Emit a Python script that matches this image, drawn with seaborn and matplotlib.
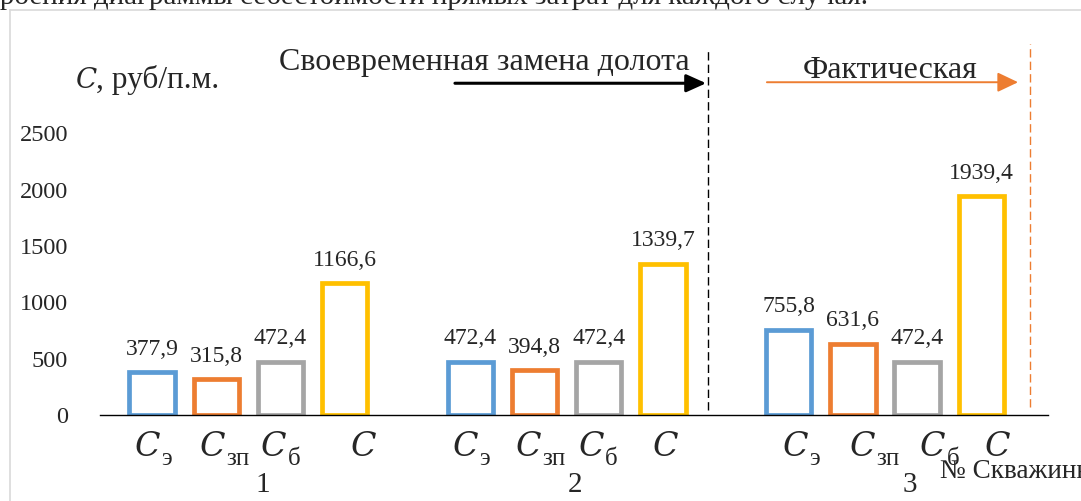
import matplotlib
matplotlib.use("Agg")
import matplotlib.pyplot as plt
from matplotlib.lines import Line2D
import seaborn as sns
import pandas as pd

# ---- data ----
wells = ["1", "2", "3"]
components = ["Cэ", "Cзп", "Cб", "C"]
comp_subscripts = ["э", "зп", "б", ""]
c_e = [377.9, 472.4, 755.8]
c_zp = [315.8, 394.8, 631.6]
c_b = [472.4, 472.4, 472.4]
c_total = [1166.6, 1339.7, 1939.4]
y_ticks = [0, 500, 1000, 1500, 2000, 2500]
colors = ["#5B9BD5", "#ED7D31", "#A5A5A5", "#FFC000"]

rows = []
for comp, vals in zip(components, [c_e, c_zp, c_b, c_total]):
    for w, v in zip(wells, vals):
        rows.append({"well": w, "comp": comp, "value": v})
df = pd.DataFrame(rows)

sns.set_theme(style="white")
plt.rcParams["font.family"] = ["Liberation Serif", "DejaVu Serif"]

W, H = 1081, 501
fig = plt.figure(figsize=(W / 100, H / 100), dpi=100)
ax = fig.add_axes([100 / W, 1 - 415 / H, 948 / W, 372 / H])

sns.barplot(data=df, x="well", y="value", hue="comp", order=wells,
            hue_order=components, palette=colors, fill=False,
            width=0.806, gap=0.294, linewidth=3.4, legend=False,
            errorbar=None, ax=ax)

ax.set_xlim(-0.466, 2.512)
ax.set_ylim(0, 3300)
ax.set_yticks(y_ticks)
ax.set_yticklabels([str(t) for t in y_ticks], fontsize=17.5)
ax.tick_params(axis="y", length=0, pad=23)
ax.set_xticks([])
ax.set_xlabel("")
ax.set_ylabel("")
for s in ["top", "right", "left"]:
    ax.spines[s].set_visible(False)
ax.spines["bottom"].set_color("black")
ax.spines["bottom"].set_linewidth(1.0)
ax.spines["bottom"].set_zorder(5)

# value labels above bars
for cont in ax.containers:
    ax.bar_label(cont, labels=[f"{v:.1f}".replace(".", ",") for v in cont.datavalues],
                 padding=9, fontsize=17)

# category captions under the bars (C with a subscript)
nudge_px = [[8, 9, 6, 18.5],
            [7.5, 7, 5.5, 2.5],
            [19.5, 22.5, 28.5, 16]]
for hi, cont in enumerate(ax.containers):
    for gi, bar in enumerate(cont.patches):
        xc = bar.get_x() + bar.get_width() / 2
        dx = nudge_px[gi][hi]
        sub = comp_subscripts[hi]
        if sub:
            ax.annotate("C", xy=(xc, 0), xytext=(dx, -41), textcoords="offset pixels",
                        ha="right", va="baseline", fontsize=24, fontstyle="italic",
                        family="DejaVu Serif", annotation_clip=False)
            ax.annotate(sub, xy=(xc, 0), xytext=(dx + 1, -50), textcoords="offset pixels",
                        ha="left", va="baseline", fontsize=18, annotation_clip=False)
        else:
            ax.annotate("C", xy=(xc, 0), xytext=(dx, -41), textcoords="offset pixels",
                        ha="center", va="baseline", fontsize=24, fontstyle="italic",
                        family="DejaVu Serif", annotation_clip=False)

# well numbers
for i, (w, dx) in enumerate(zip(wells, [14.7, 8.3, 24.9])):
    ax.annotate(w, xy=(i, 0), xytext=(dx, -77), textcoords="offset pixels",
                ha="center", va="baseline", fontsize=21, annotation_clip=False)

# scenario separators and arrows
ax.plot([1.444, 1.444], [44, 3236], color="black", lw=1.0, ls=(0, (6, 3)), clip_on=False)
ax.plot([2.455, 2.455], [71, 3289], color="#ED7D31", lw=1.0, ls=(0, (6, 3)), clip_on=False)
ax.annotate("", xy=(1.438, 2943), xytext=(0.649, 2943),
            arrowprops=dict(arrowstyle="-|>,head_length=1.0,head_width=0.45",
                            color="black", lw=2.2, shrinkA=0, shrinkB=0),
            annotation_clip=False)
ax.annotate("", xy=(2.418, 2952), xytext=(1.629, 2952),
            arrowprops=dict(arrowstyle="-|>,head_length=1.05,head_width=0.5",
                            color="#ED7D31", lw=1.4, shrinkA=0, shrinkB=0),
            annotation_clip=False)
ax.text(0.740, 3058, "Своевременная замена долота", ha="center", va="baseline",
        fontsize=23, clip_on=False)
ax.text(2.015, 2988, "Фактическая", ha="center", va="baseline",
        fontsize=23, clip_on=False)

# axis titles
ax.text(-0.543, 2899, "C", ha="left", va="baseline", fontsize=20,
        fontstyle="italic", family="DejaVu Serif", clip_on=False)
ax.annotate(", руб/п.м.", xy=(-0.543, 2899), xytext=(21, 0), textcoords="offset pixels",
            ha="left", va="baseline", fontsize=22.5, annotation_clip=False)
fig.text(940 / W, 1 - 478 / H, "№ Скважины", ha="left", va="baseline", fontsize=19.5)

# surrounding frame and the caption line above it
fig.add_artist(Line2D([9.5 / W, 9.5 / W], [0, 1 - 9.5 / H], color="#d9d9d9",
                      lw=1.2, transform=fig.transFigure))
fig.add_artist(Line2D([9.5 / W, 1], [1 - 9.5 / H, 1 - 9.5 / H], color="#d9d9d9",
                      lw=1.2, transform=fig.transFigure))
fig.text(868 / W, 1 - 3.5 / H,
         "построения диаграммы себестоимости прямых затрат для каждого случая.",
         ha="right", va="baseline", fontsize=21)

fig.savefig("out.png", dpi=100)
